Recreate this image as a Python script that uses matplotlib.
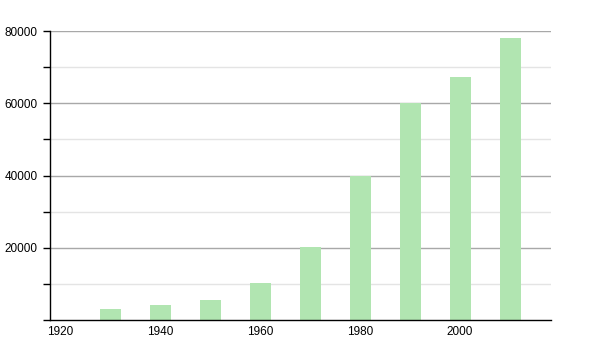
import matplotlib
matplotlib.use('Agg')
import matplotlib.pyplot as plt
from matplotlib.ticker import MultipleLocator, FuncFormatter

years = [1930, 1940, 1950, 1960, 1970, 1980, 1990, 2000, 2010]
population = [3000, 4150, 5500, 10300, 20100, 40000, 60000, 67200, 78000]
x_ticks = [1920, 1940, 1960, 1980, 2000]

plt.rcParams['font.family'] = ['Liberation Sans', 'DejaVu Sans']

fig = plt.figure(figsize=(6, 3.5), dpi=100)
ax = fig.add_axes([50 / 600, 30 / 350, 501 / 600, 289 / 350])

# grid: darker every 20000, lighter in between
for v in range(10000, 80001, 10000):
    color = '#a8a8a8' if v % 20000 == 0 else '#e4e4e4'
    ax.axhline(v, color=color, linewidth=1, zorder=1)

ax.bar(years, population, width=4.2, color='#b1e5b1', zorder=2)

ax.set_xlim(1918, 2018.2)
ax.set_ylim(0, 80000)

ax.set_xticks(x_ticks)
ax.set_xticklabels([str(t) for t in x_ticks])
ax.tick_params(axis='x', length=0, pad=4, labelsize=8.5)

ax.yaxis.set_major_locator(MultipleLocator(10000))
ax.yaxis.set_major_formatter(FuncFormatter(lambda v, p: f'{int(v)}' if v % 20000 == 0 and v > 0 else ''))
ax.tick_params(axis='y', length=5, width=1, pad=4, labelsize=8.5)

for side in ['top', 'right']:
    ax.spines[side].set_visible(False)
ax.spines['left'].set_linewidth(1)
ax.spines['bottom'].set_linewidth(1)

fig.savefig('out.png', dpi=100)
